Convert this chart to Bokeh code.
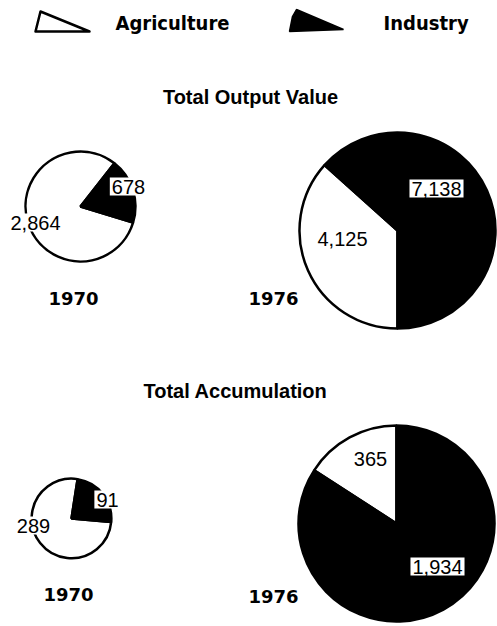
import math
from bokeh.plotting import figure
from bokeh.models import Range1d
from bokeh.core.properties import value
from bokeh.embed import file_html
from bokeh.resources import INLINE

# ---- data ----
categories = ["Agriculture", "Industry"]
years = ["1970", "1976"]
output_agri = [2864, 4125]
output_ind = [678, 7138]
accum_agri = [289, 365]
accum_ind = [91, 1934]
titles = ["Total Output Value", "Total Accumulation"]

W, H = 497, 626
p = figure(width=W, height=H, output_backend="svg", toolbar_location=None,
           x_range=Range1d(0, W), y_range=Range1d(0, H),
           min_border=0, outline_line_color=None)
p.axis.visible = False
p.grid.visible = False
p.background_fill_color = "white"


def Y(y):
    return 626 - y


FONT = value("Liberation Sans")
NARROW = value("DejaVu Sans Condensed")

# legend
p.patch([40, 35, 89], [Y(11), Y(31), Y(31)], fill_color="white",
        line_color="black", line_width=2.5, line_join="round")
p.patch([296, 292, 289, 343], [Y(9), Y(16), Y(31), Y(29)], fill_color="black",
        line_color="black", line_width=1.5)
p.text(x=[115, 383], y=[Y(22), Y(22)], text=categories, text_font=NARROW,
       text_font_style="bold", text_font_size="20px", text_baseline="middle",
       text_align="left", text_color="black")

# titles
p.text(x=[250, 235], y=[Y(96), Y(390)], text=titles, text_font=FONT,
       text_font_style="bold", text_font_size="20px", text_align="center",
       text_baseline="middle", text_color="black")


def pie(cx, cy, r, agri, ind, ind_start_deg, agri_first=False):
    tot = agri + ind
    a_ang = 2 * math.pi * agri / tot
    i_ang = 2 * math.pi * ind / tot
    s = math.radians(ind_start_deg)
    if agri_first:
        a0, a1 = s, s + a_ang
        i0, i1 = a1, a1 + i_ang
    else:
        i0, i1 = s, s + i_ang
        a0, a1 = i1, i1 + a_ang
    p.wedge(x=cx, y=Y(cy), radius=r, start_angle=a0, end_angle=a1,
            fill_color="white", line_color="black", line_width=2.5)
    p.wedge(x=cx, y=Y(cy), radius=r, start_angle=i0, end_angle=i1,
            fill_color="black", line_color="black", line_width=2.5)


k_out = 98 / math.sqrt(output_agri[1] + output_ind[1])
k_acc = 98 / math.sqrt(accum_agri[1] + accum_ind[1])

pie(80, 206, k_out * math.sqrt(output_agri[0] + output_ind[0]),
    output_agri[0], output_ind[0], -17)
pie(397, 230, k_out * math.sqrt(output_agri[1] + output_ind[1]),
    output_agri[1], output_ind[1], -90)
pie(71, 518, k_acc * math.sqrt(accum_agri[0] + accum_ind[0]),
    accum_agri[0], accum_ind[0], -5)
pie(396, 523, k_acc * math.sqrt(accum_agri[1] + accum_ind[1]),
    accum_agri[1], accum_ind[1], 90, agri_first=True)

# value labels
lab_x = [128, 35, 436, 342, 107, 33, 437, 370]
lab_y = [186, 222, 188, 238, 499, 525, 566, 458]
lab_t = [f"{v:,}" for v in [output_ind[0], output_agri[0], output_ind[1], output_agri[1],
                            accum_ind[0], accum_agri[0], accum_ind[1], accum_agri[1]]]
p.text(x=lab_x, y=[Y(v) for v in lab_y], text=lab_t, text_font=FONT,
       text_font_size="20px", text_align="center", text_baseline="middle",
       text_color="black", background_fill_color="white", padding=2)

# year labels
p.text(x=[73, 273, 68, 273], y=[Y(298), Y(298), Y(594), Y(596)],
       text=[years[0], years[1], years[0], years[1]], text_font=value("DejaVu Sans"),
       text_font_style="bold", text_font_size="18px", text_align="center",
       text_baseline="middle", text_color="black")

open("out.html", "w").write(file_html(p, INLINE))
